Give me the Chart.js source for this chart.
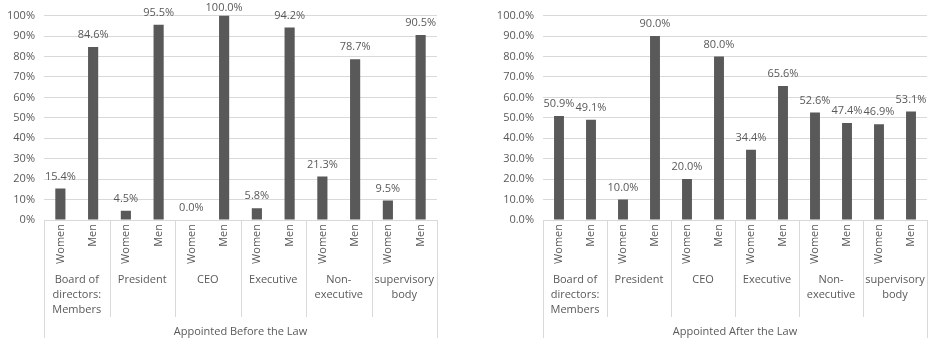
<!DOCTYPE html>
<html>
<head>
<meta charset="utf-8">
<script src="https://cdn.jsdelivr.net/npm/chart.js@4.4.1/dist/chart.umd.min.js"></script>
<style>
  html, body { margin: 0; padding: 0; background: #fff; }
  .wrap { display: flex; width: 932px; height: 342px; }
  .box { position: relative; width: 466px; height: 342px; }
</style>
</head>
<body>
<div class="wrap">
  <div class="box"><canvas id="before"></canvas></div>
  <div class="box"><canvas id="after"></canvas></div>
</div>
<script>
// categories
const groups = [['Board of', 'directors:', 'Members'], ['President'], ['CEO'], ['Executive'], ['Non-', 'executive'], ['supervisory', 'body']];
const genders = ['Women', 'Men'];

// values in percent
const womenBefore = [15.4, 4.5, 0.0, 5.8, 21.3, 9.5];
const menBefore = [84.6, 95.5, 100.0, 94.2, 78.7, 90.5];
const womenAfter = [50.9, 10.0, 20.0, 34.4, 52.6, 46.9];
const menAfter = [49.1, 90.0, 80.0, 65.6, 47.4, 53.1];

const textColor = '#595959';
const lineColor = '#d9d9d9';
const barColor = '#595959';

Chart.defaults.font.family = "'Open Sans', sans-serif";
Chart.defaults.font.size = 11;
Chart.defaults.color = textColor;

function buildChart(id, title, women, men, decimals, axisWidth, padRight) {
  const labels = [];
  const data = [];
  groups.forEach((g, i) => {
    labels.push(genders[0], genders[1]);
    data.push(women[i], men[i]);
  });

  // labels above the bars + the grouped category axis
  const extras = {
    id: 'extras',
    afterDatasetsDraw(chart) {
      const ctx = chart.ctx;
      const meta = chart.getDatasetMeta(0);
      ctx.save();
      ctx.fillStyle = textColor;
      ctx.font = "11px 'Open Sans', sans-serif";
      ctx.textAlign = 'center';
      ctx.textBaseline = 'middle';
      meta.data.forEach((bar, i) => {
        let y = bar.y - 12;
        if (y < 8) y = 8;
        ctx.fillText(data[i].toFixed(1) + '%', bar.x, y);
      });
      ctx.restore();
    },
    afterDraw(chart) {
      const ctx = chart.ctx;
      const x = chart.scales.x;
      const area = chart.chartArea;
      const step = (area.right - area.left) / groups.length;
      ctx.save();
      ctx.strokeStyle = lineColor;
      ctx.lineWidth = 1;
      for (let g = 0; g <= groups.length; g++) {
        const px = Math.round(area.left + g * step) + 0.5;
        const end = (g === 0 || g === groups.length) ? 338 : 317;
        ctx.beginPath();
        ctx.moveTo(px, area.bottom);
        ctx.lineTo(px, end);
        ctx.stroke();
      }
      ctx.fillStyle = textColor;
      ctx.font = "11px 'Open Sans', sans-serif";
      ctx.textAlign = 'center';
      ctx.textBaseline = 'middle';
      groups.forEach((lines, g) => {
        const cx = (x.getPixelForValue(2 * g) + x.getPixelForValue(2 * g + 1)) / 2;
        lines.forEach((t, k) => ctx.fillText(t, cx, 280 + k * 15));
      });
      ctx.fillText(title, (area.left + area.right) / 2, 332);
      ctx.restore();
    }
  };

  new Chart(document.getElementById(id), {
    type: 'bar',
    data: {
      labels: labels,
      datasets: [{
        data: data,
        backgroundColor: barColor,
        barPercentage: 0.31,
        categoryPercentage: 1
      }]
    },
    options: {
      responsive: true,
      maintainAspectRatio: false,
      animation: false,
      layout: { padding: { top: 13, right: padRight, bottom: 0, left: 0 } },
      plugins: { legend: { display: false }, tooltip: { enabled: false } },
      scales: {
        x: {
          grid: { display: false, drawTicks: false },
          border: { display: false },
          ticks: { minRotation: 90, maxRotation: 90, padding: 4, autoSkip: false },
          afterFit(scale) { scale.height = 122; }
        },
        y: {
          min: 0,
          max: 100,
          grid: { color: lineColor, drawTicks: false },
          border: { display: false },
          ticks: {
            stepSize: 10,
            padding: 9,
            callback: v => v.toFixed(decimals) + '%'
          },
          afterFit(scale) { scale.width = axisWidth; }
        }
      }
    },
    plugins: [extras]
  });
}

buildChart('before', 'Appointed Before the Law', womenBefore, menBefore, 0, 44, 29);
buildChart('after', 'Appointed After the Law', womenAfter, menAfter, 1, 77, 5);
</script>
</body>
</html>
